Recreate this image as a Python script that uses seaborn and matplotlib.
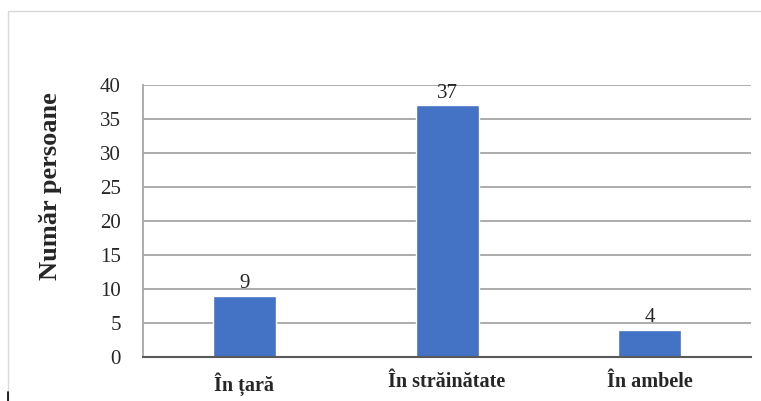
import pandas as pd
import seaborn as sns
import matplotlib.pyplot as plt
from matplotlib.patches import Rectangle

categorii = ['În țară', 'În străinătate', 'În ambele']
persoane = [9, 37, 4]
y_ticks = [0, 5, 10, 15, 20, 25, 30, 35, 40]

df = pd.DataFrame({'categorie': categorii, 'persoane': persoane})

sns.set_style('white')
plt.rcParams['font.family'] = ['Liberation Serif', 'DejaVu Serif']

fig = plt.figure(figsize=(7.61, 4.01), dpi=100)
ax = fig.add_axes([0.188, 0.110, 0.799, 0.678])

# chenarul graficului
fig.patches.append(Rectangle((8 / 761, -0.1), 1.2, 1 - 11 / 401 + 0.1,
                             transform=fig.transFigure, fill=False,
                             edgecolor='#d9d9d9', linewidth=1.0))
fig.add_artist(plt.Line2D([8 / 761, 8 / 761], [0, 9 / 401],
                          transform=fig.transFigure, color='black', lw=1.2))

sns.barplot(data=df, x='categorie', y='persoane', color='#4472C4',
            saturation=1, width=0.31, ax=ax, zorder=3)

ax.set_ylim(0, 40)
ax.set_yticks(y_ticks)
ax.yaxis.grid(True, color='#a6a6a6', linewidth=1.3, zorder=0)
ax.set_axisbelow(True)

for s in ['top', 'right']:
    ax.spines[s].set_visible(False)
ax.spines['left'].set_color('#a6a6a6')
ax.spines['left'].set_linewidth(1.3)
ax.spines['bottom'].set_color('#595959')
ax.spines['bottom'].set_linewidth(1.5)
ax.spines['bottom'].set_zorder(4)

ax.tick_params(axis='y', length=0, labelsize=15, pad=16)
ax.tick_params(axis='x', length=0, labelsize=14.5, pad=11)
for lbl in ax.get_xticklabels():
    lbl.set_fontweight('bold')

for c in ax.containers:
    ax.bar_label(c, fontsize=15, padding=2)

ax.set_xlabel('')
ax.set_ylabel('Număr persoane', fontsize=19, fontweight='bold')
ax.yaxis.set_label_coords(-0.133, 0.629)

plt.savefig('out.png', dpi=100)
